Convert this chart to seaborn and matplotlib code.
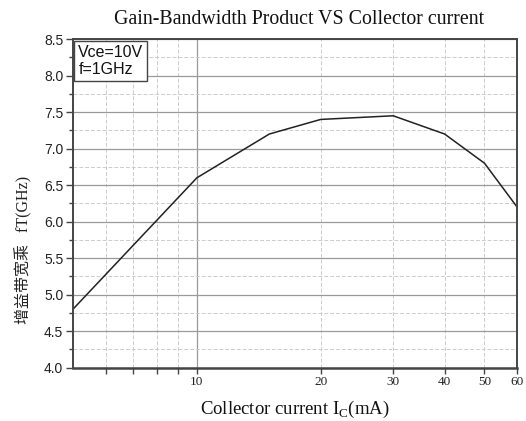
import matplotlib
matplotlib.use("Agg")
import matplotlib.pyplot as plt
import matplotlib.ticker as mticker
import seaborn as sns
import pandas as pd

current_mA = [5, 10, 15, 20, 30, 40, 50, 60]
ft_GHz = [4.8, 6.6, 7.2, 7.4, 7.45, 7.2, 6.8, 6.2]
x_major = [10]
x_minor = [6, 7, 8, 9, 20, 30, 40, 50, 60]
x_labels_minor = {20: "20", 30: "30", 40: "40", 50: "50", 60: "60"}

sns.set_style("white")
plt.rcParams['font.family'] = ['Liberation Sans', 'DejaVu Sans']
plt.rcParams['mathtext.fontset'] = 'custom'
plt.rcParams['mathtext.rm'] = 'Liberation Serif'

df = pd.DataFrame({"Ic": current_mA, "fT": ft_GHz})

fig = plt.figure(figsize=(5.26, 4.21), dpi=100)
ax = fig.add_axes([0.1388, 0.127, 0.983 - 0.1388, 0.907 - 0.127])
sns.lineplot(data=df, x="Ic", y="fT", ax=ax, color="#222222", linewidth=1.1)

ax.set_xscale("log")
ax.set_xlim(5, 60)
ax.set_ylim(4.0, 8.5)

ax.xaxis.set_major_locator(mticker.FixedLocator(x_major))
ax.xaxis.set_major_formatter(mticker.FixedFormatter([str(v) for v in x_major]))
ax.xaxis.set_minor_locator(mticker.FixedLocator(x_minor))
ax.xaxis.set_minor_formatter(mticker.FuncFormatter(lambda v, p: x_labels_minor.get(int(round(v)), "")))

ax.yaxis.set_major_locator(mticker.MultipleLocator(0.5))
ax.yaxis.set_minor_locator(mticker.MultipleLocator(0.25))
ax.yaxis.set_major_formatter(mticker.FormatStrFormatter("%.1f"))

ax.grid(which="major", color="#9a9a9a", linestyle="-", linewidth=0.9)
ax.grid(which="minor", color="#cccccc", linestyle=(0, (4, 2)), linewidth=0.7)
ax.set_axisbelow(True)

for s in ax.spines.values():
    s.set_color("#444444")
    s.set_linewidth(1.4)
ax.spines["bottom"].set_linewidth(1.8)

ax.tick_params(axis="both", which="both", direction="out", color="#444444",
               bottom=True, left=True, top=False, right=False)
ax.tick_params(axis="y", which="major", length=5, width=1, labelsize=10, pad=2, labelcolor="#222222")
ax.tick_params(axis="y", which="minor", length=3, width=1)
ax.tick_params(axis="x", which="both", length=4, width=1, labelsize=9.5, pad=2, labelcolor="#222222")
for lab in ax.get_xticklabels(which="both"):
    lab.set_fontfamily(["Liberation Serif", "DejaVu Serif"])

ax.set_xlabel("Collector current I$_\\mathrm{C}$(mA)", fontsize=13.5,
              family=["Liberation Serif", "DejaVu Serif"], color="#111111")
ax.xaxis.set_label_coords(0.5, -0.095)
ax.set_ylabel("增益带宽乘   fT(GHz)", fontsize=11.5,
              family=["Liberation Serif", "Noto Sans CJK SC", "DejaVu Sans"], color="#222222")
ax.yaxis.set_label_coords(-0.092, 0.357)
ax.set_title("Gain-Bandwidth Product VS Collector current", fontsize=14.3,
             family=["Liberation Serif", "DejaVu Serif"], pad=11, color="#111111",
             x=0.509)

ax.text(0.012, 0.982, "Vce=10V\nf=1GHz", transform=ax.transAxes, ha="left", va="top",
        fontsize=11.5, linespacing=1.2, color="#111111",
        bbox=dict(boxstyle="square,pad=0.25", facecolor="white", edgecolor="#444444", linewidth=1.0))

fig.savefig("out.png", dpi=100)
